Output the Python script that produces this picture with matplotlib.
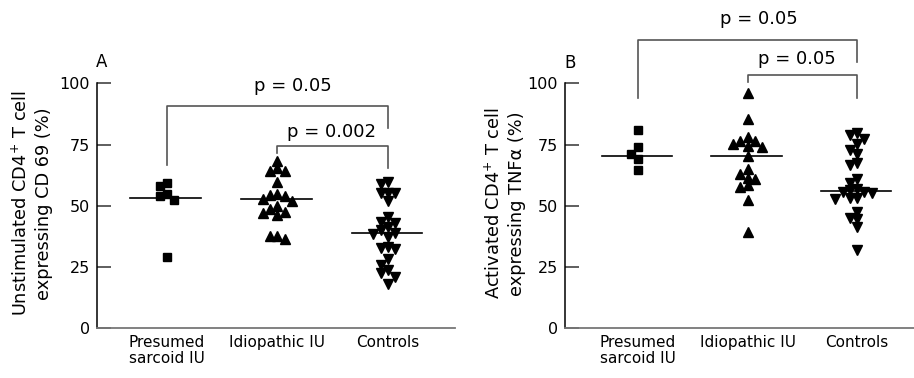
import numpy as np
import matplotlib
matplotlib.use("Agg")
import matplotlib.pyplot as plt

groups = ["Presumed\nsarcoid IU", "Idiopathic IU", "Controls"]

# panel A - unstimulated CD4+ T cells expressing CD69 (%)
a_sarcoid = [59.2, 58.2, 54.8, 54.0, 52.4, 29.2]
a_idiopathic = [68.4, 65.6, 64.3, 64.3, 59.6, 54.8, 54.4, 54.0, 52.8, 52.0,
                49.9, 48.6, 47.6, 47.2, 46.2, 37.8, 37.8, 36.3]
a_controls = [59.6, 58.8, 55.1, 55.1, 55.1, 52.1, 45.3, 43.5, 42.9, 41.2,
              40.1, 39.0, 38.5, 37.4, 33.3, 32.7, 32.2, 28.3, 25.8, 23.8,
              22.4, 21.1, 18.0]
a_medians = [53.3, 52.7, 38.8]

# panel B - activated CD4+ T cells expressing TNFa (%)
b_sarcoid = [80.8, 73.8, 71.0, 69.0, 64.5]
b_idiopathic = [96.0, 85.6, 78.1, 76.3, 76.3, 75.4, 74.3, 73.8, 70.3, 64.9,
                63.1, 61.5, 61.1, 58.4, 57.7, 52.2, 39.3]
b_controls = [79.7, 78.8, 77.4, 75.4, 72.7, 71.3, 67.5, 66.8, 60.8, 59.3,
              57.0, 56.3, 55.6, 55.6, 55.4, 53.3, 53.3, 52.9, 47.6, 44.9,
              44.5, 41.5, 31.8]
b_medians = [70.3, 70.3, 56.0]

# brackets: (from group, to group, bar height, left drop, right drop, label)
a_brackets = [(0, 2, 90.7, 66.7, 81.8, "p = 0.05"),
              (1, 2, 74.5, 71.4, 65.4, "p = 0.002")]
b_brackets = [(0, 2, 117.8, 93.9, 108.6, "p = 0.05"),
              (1, 2, 103.3, 100.4, 93.9, "p = 0.05")]

plt.rcParams["font.family"] = "DejaVu Sans"


def swarm(values, step=0.066, thr=2.8):
    # simple column packing so markers do not sit on top of each other
    vals = np.asarray(values, dtype=float)
    order = np.argsort(-vals)
    offs = np.zeros(len(vals))
    placed = []
    for i in order:
        for k in [0, -1, 1, -2, 2, -3, 3]:
            if all(not (kk == k and abs(vals[i] - vv) < thr) for kk, vv in placed):
                placed.append((k, vals[i]))
                offs[i] = k * step
                break
    return offs


def panel(ax, data, markers, medians, brackets, xlim):
    for i, (vals, m) in enumerate(zip(data, markers)):
        xs = i + swarm(vals)
        ms = 5.2 if m == "s" else 6.6
        ax.plot(xs, vals, linestyle="none", marker=m, ms=ms, color="black",
                clip_on=False, zorder=3)
        ax.plot([i - 0.33, i + 0.31], [medians[i], medians[i]], color="black",
                lw=1.2, zorder=2)
    for g0, g1, h, d0, d1, txt in brackets:
        ax.plot([g0, g0, g1, g1], [d0, h, h, d1], color="#555555", lw=1.2,
                clip_on=False)
    ax.set_xlim(*xlim)
    ax.set_ylim(0, 100)
    ax.set_yticks([0, 25, 50, 75, 100])
    ax.set_xticks(range(3))
    ax.set_xticklabels(groups, fontsize=11, linespacing=1.1)
    ax.tick_params(axis="y", direction="in", length=10, width=1.1,
                   color="#333333", labelsize=11.5, pad=5)
    ax.tick_params(axis="x", length=0, pad=5)
    for s in ["top", "right"]:
        ax.spines[s].set_visible(False)
    ax.spines["left"].set_color("black")
    ax.spines["left"].set_linewidth(1.1)
    ax.spines["bottom"].set_color("#777777")
    ax.spines["bottom"].set_linewidth(1.3)


fig = plt.figure(figsize=(9.14, 3.78), dpi=100)
axA = fig.add_axes([0.1061, 0.1315, 0.3917, 0.6481])
axB = fig.add_axes([0.6182, 0.1315, 0.3818, 0.6481])

panel(axA, [a_sarcoid, a_idiopathic, a_controls], ["s", "^", "v"],
      a_medians, a_brackets, (-0.633, 2.606))
panel(axB, [b_sarcoid, b_idiopathic, b_controls], ["s", "^", "v"],
      b_medians, b_brackets, (-0.667, 2.52))

axA.text(1.14, 97.0, "p = 0.05", fontsize=13, ha="center", va="baseline")
axA.text(1.49, 78.2, "p = 0.002", fontsize=13, ha="center", va="baseline")
axB.text(1.10, 124.4, "p = 0.05", fontsize=13, ha="center", va="baseline")
axB.text(1.45, 108.0, "p = 0.05", fontsize=13, ha="center", va="baseline")

fig.text(0.111, 0.837, "A", fontsize=12, ha="center", va="center")
fig.text(0.6236, 0.833, "B", fontsize=12, ha="center", va="center")

fig.text(0.0356, 0.462, "Unstimulated CD4$^{+}$ T cell\nexpressing CD 69 (%)",
         rotation=90, fontsize=12.8, ha="center", va="center",
         multialignment="center", linespacing=1.3)
fig.text(0.5525, 0.462, "Activated CD4$^{+}$ T cell\nexpressing TNFα (%)",
         rotation=90, fontsize=12.8, ha="center", va="center",
         multialignment="center", linespacing=1.3)

fig.savefig("out.png", dpi=100)
